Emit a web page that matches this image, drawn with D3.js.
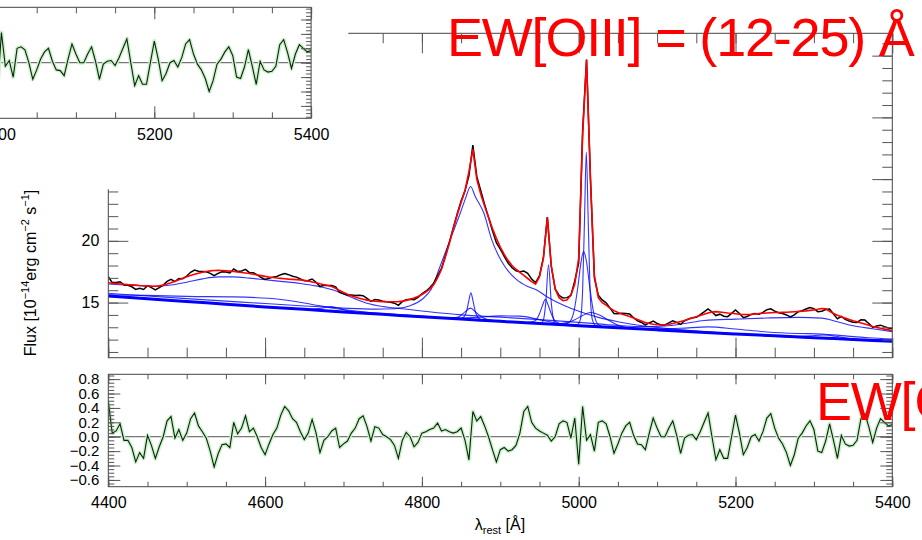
<!DOCTYPE html>
<html>
<head>
<meta charset="utf-8">
<script src="https://cdn.jsdelivr.net/npm/d3@7"></script>
<style>
  html, body { margin: 0; padding: 0; background: #fff; }
  svg { display: block; font-family: "Liberation Sans", Arial, Helvetica, sans-serif; }
</style>
</head>
<body>
<script>
// Hβ + [OIII] region fit: observed spectrum, total model, components, residuals.

// wavelength grid of the observed spectrum (Å, rest frame)
const wavelengths = d3.range(4400, 5401, 5);

// total model (red), flux in 1e-14 erg cm^-2 s^-1 Å^-1, one value per grid point
const modelFlux = [
  16.60, 16.57, 16.54, 16.51, 16.48, 16.45, 16.43, 16.41, 16.38, 16.36,
  16.35, 16.33, 16.32, 16.35, 16.42, 16.50, 16.60, 16.72, 16.85, 16.98,
  17.10, 17.20, 17.30, 17.38, 17.45, 17.52, 17.57, 17.60, 17.61, 17.60,
  17.58, 17.55, 17.52, 17.48, 17.44, 17.40, 17.35, 17.30, 17.24, 17.18,
  17.12, 17.07, 17.03, 16.99, 16.96, 16.93, 16.90, 16.88, 16.86, 16.84,
  16.80, 16.74, 16.67, 16.60, 16.52, 16.45, 16.38, 16.30, 16.15, 15.98,
  15.82, 15.68, 15.56, 15.45, 15.35, 15.27, 15.20, 15.15, 15.11, 15.09,
  15.08, 15.07, 15.07, 15.07, 15.08, 15.12, 15.18, 15.27, 15.38, 15.50,
  15.65, 15.85, 16.10, 16.45, 17.00, 17.70, 18.70, 19.80, 21.00, 22.10,
  23.10, 24.10, 25.60, 27.40, 25.00, 23.80, 22.80, 21.90, 21.00, 20.20,
  19.50, 18.90, 18.40, 18.00, 17.70, 17.45, 17.20, 16.95, 16.70, 16.50,
  17.10, 18.60, 21.90, 18.00, 16.10, 15.40, 15.15, 15.20, 15.60, 16.50,
  18.60, 28.50, 34.70, 25.00, 17.20, 15.40, 15.00, 14.80, 14.55, 14.35,
  14.20, 14.08, 13.97, 13.87, 13.75, 13.62, 13.50, 13.38, 13.30, 13.24,
  13.20, 13.18, 13.19, 13.24, 13.30, 13.38, 13.46, 13.55, 13.65, 13.75,
  13.85, 13.95, 14.05, 14.15, 14.24, 14.27, 14.24, 14.20, 14.16, 14.13,
  14.10, 14.06, 14.03, 14.02, 14.04, 14.08, 14.11, 14.14, 14.16, 14.18,
  14.19, 14.20, 14.21, 14.22, 14.24, 14.26, 14.28, 14.30, 14.33, 14.37,
  14.41, 14.46, 14.52, 14.50, 14.30, 14.12, 13.98, 13.86, 13.74, 13.63,
  13.53, 13.44, 13.35, 13.26, 13.16, 13.07, 12.99, 12.92, 12.85, 12.79,
  12.73
];

// residuals (observed - model), same grid
const residual = [
  0.49, 0.05, 0.08, 0.18, -0.05, -0.05, -0.15, -0.35, -0.22, -0.30,
  0.02, -0.12, -0.30, -0.14, 0.00, 0.22, 0.28, -0.02, 0.10, -0.05,
  0.05, 0.25, 0.33, 0.15, 0.07, -0.02, -0.20, -0.42, -0.24, -0.11,
  -0.10, -0.15, 0.20, 0.04, 0.12, 0.29, 0.07, 0.12, 0.00, -0.15,
  -0.25, -0.10, 0.03, 0.12, 0.30, 0.42, 0.36, 0.25, 0.20, 0.07,
  -0.04, 0.05, 0.24, 0.05, -0.22, -0.05, 0.00, 0.08, 0.12, -0.15,
  -0.10, -0.06, 0.05, 0.12, 0.25, 0.29, 0.14, -0.06, 0.14, 0.12,
  0.03, 0.00, -0.04, -0.12, -0.30, -0.05, 0.06, 0.00, -0.14, -0.08,
  0.05, 0.07, 0.10, 0.12, 0.19, 0.08, 0.10, 0.07, 0.05, 0.07,
  0.12, -0.05, -0.32, 0.35, 0.22, 0.28, 0.15, 0.00, -0.18, -0.35,
  -0.18, -0.15, -0.20, -0.18, -0.12, 0.05, 0.35, 0.42, 0.20, 0.12,
  0.08, 0.05, 0.02, -0.06, 0.00, 0.18, 0.22, 0.20, -0.02, 0.26,
  -0.38, 0.42, -0.05, 0.03, -0.20, 0.20, 0.22, 0.18, 0.00, -0.23,
  -0.10, 0.05, 0.15, 0.20, 0.02, -0.10, -0.11, -0.18, 0.05, 0.26,
  0.12, 0.00, 0.00, 0.12, 0.22, 0.02, -0.23, -0.02, 0.02, 0.03,
  -0.04, 0.07, 0.20, 0.33, 0.00, -0.32, -0.18, -0.30, -0.30, 0.00,
  0.30, 0.05, -0.25, -0.15, 0.00, 0.03, -0.06, 0.07, 0.26, 0.32,
  0.12, -0.02, -0.10, -0.22, -0.40, -0.25, -0.02, 0.05, 0.15, 0.22,
  0.10, -0.20, -0.22, -0.06, 0.18, -0.05, -0.30, 0.02, -0.10, -0.13,
  -0.12, -0.05, 0.25, 0.32, 0.14, -0.08, 0.12, 0.25, 0.20, 0.15,
  0.17
];

// fit components (blue), each plotted on top of the continuum: [wavelength, flux]
const powerLaw = [[4400,15.54],[4450,15.31],[4500,15.09],[4550,14.87],[4600,14.65],[4650,14.45],[4700,14.24],
  [4750,14.05],[4800,13.85],[4850,13.67],[4900,13.48],[4950,13.30],[5000,13.13],[5050,12.96],[5100,12.79],
  [5150,12.62],[5200,12.46],[5250,12.31],[5300,12.16],[5350,12.01],[5400,11.86]];
const hbBroad = [[4400,15.75],[4500,15.32],[4600,14.92],[4650,14.72],[4700,14.55],[4740,14.47],[4765,14.5],
  [4785,14.75],[4800,15.25],[4812,16.1],[4823,17.9],[4836,20.1],[4849,22.25],[4856,23.5],[4862,24.4],
  [4868,23.6],[4879,22.25],[4889,20.1],[4897,18.9],[4906,17.9],[4920,16.9],[4935,16.3],[4947,16.0],
  [4960,15.45],[4980,14.8],[5002,14.25],[5025,13.8],[5050,13.45],[5090,13.05],[5150,12.7],[5200,12.48],
  [5300,12.12],[5400,11.98]];
const feII = [[4400,16.5],[4420,16.42],[4440,16.36],[4460,16.32],[4480,16.42],[4500,16.65],[4520,16.92],
  [4540,17.08],[4560,17.08],[4580,16.98],[4600,16.85],[4620,16.72],[4645,16.55],[4665,16.35],[4687,16.02],
  [4700,15.7],[4715,15.3],[4730,14.95],[4750,14.68],[4775,14.5],[4800,14.32],[4850,14.0],[4900,13.82],
  [4950,13.62],[5000,13.4],[5050,13.15],[5085,13.05],[5110,13.1],[5135,13.3],[5160,13.55],[5200,13.66],
  [5240,13.75],[5280,13.8],[5310,13.74],[5330,13.45],[5350,13.12],[5375,12.88],[5400,12.65]];
const hbNarrow = [[4835,13.72],[4848,13.68],[4853,13.8],[4857,14.3],[4860,15.2],[4862.5,15.8],[4865,15.2],
  [4868,14.3],[4872,13.75],[4877,13.6],[4890,13.56]];
const hbMid = [[4830,13.75],[4845,13.8],[4855,14.25],[4862,14.55],[4869,14.2],[4880,13.7],[4895,13.5]];
const o3Narrow4959 = [[4945,13.3],[4952,13.32],[4955,13.6],[4958,15.0],[4961.5,18.05],[4965,15.0],[4968,13.6],
  [4971,13.25],[4980,13.2]];
const o3Wing4959 = [[4935,13.38],[4944,13.5],[4950,14.1],[4954,14.8],[4957.5,15.27],[4961,14.8],[4965,14.1],
  [4971,13.45],[4980,13.22]];
const o3Narrow5007 = [[4990,13.18],[4998,13.2],[5002,13.6],[5005,16.0],[5007.5,22.0],[5009.7,27.2],[5012,22.0],
  [5014.5,16.0],[5017.5,13.6],[5022,13.12],[5030,13.02]];
const o3Wing5007 = [[4980,13.2],[4988,13.4],[4994,14.3],[4999,16.3],[5003,18.3],[5006.3,19.13],[5010,18.3],
  [5014,16.3],[5019,14.2],[5025,13.2],[5035,13.0]];
const bump5015 = [[4960,13.28],[4980,13.32],[4995,13.6],[5005,13.95],[5015,14.19],[5028,13.95],[5040,13.5],
  [5055,13.05],[5070,12.9]];
const bump4925 = [[4840,13.72],[4870,13.8],[4900,13.92],[4925,13.9],[4950,13.62],[4975,13.3],[5000,13.15],[5020,13.07]];
const heII = [[4640,14.49],[4660,14.48],[4672,14.55],[4683,14.67],[4694,14.55],[4708,14.3],[4725,14.14]];
const bump4560 = [[4400,15.62],[4450,15.58],[4500,15.5],[4560,15.46],[4620,15.25],[4660,14.85],[4690,14.52],
  [4730,14.22],[4780,13.98],[4830,13.75]];
const feRed = [[5000,13.13],[5050,13.0],[5100,12.88],[5130,12.92],[5165,13.03],[5200,12.86],[5240,12.62],
  [5280,12.5],[5310,12.46],[5340,12.3],[5370,12.15],[5400,12.04]];
const bump5310 = [[5270,12.24],[5295,12.3],[5312,12.38],[5328,12.27],[5350,12.02]];
const components = [hbBroad, feII, hbNarrow, hbMid, o3Narrow4959, o3Wing4959, o3Narrow5007, o3Wing5007,
  bump5015, bump4925, heII, bump4560, feRed, bump5310];

// ticks
const xMajor = [4400, 4600, 4800, 5000, 5200, 5400];
const xMinor = d3.range(4400, 5401, 50);
const fluxMajor = [15, 20, 25, 30, 35];
const fluxMinor = d3.range(11, 37, 1);
const resMajor = [-0.6, -0.4, -0.2, 0.0, 0.2, 0.4, 0.6, 0.8];
const resMinor = d3.range(-0.65, 0.86, 0.05);
const insetResMajor = [-0.6, -0.4, -0.2, 0.0, 0.2, 0.4, 0.6];
const insetResMinor = d3.range(-0.75, 0.76, 0.05);
const ewLabel = "EW[OIII] = (12-25) Å";

const width = 922, height = 540;
const L = 108.3, R = 892.3;
const mainTop = 33.3, mainBot = 357.7, resTop = 374.3, resBot = 486.7;

const svg = d3.select("body").append("svg").attr("width", width).attr("height", height);

const x = d3.scaleLinear().domain([4400, 5400]).range([L, R]);
const yFlux = d3.scaleLinear().domain([10.535, 36.81]).range([mainBot, mainTop]);
const yRes = d3.scaleLinear().domain([-0.694, 0.867]).range([resBot, resTop]);
// the pasted residual strip in the top-left corner (same dispersion, shifted)
const xIn = d3.scaleLinear().domain([4400, 5400]).range([154.3 - 627.2, 154.3 + 156.8]);
const yIn = d3.scaleLinear().domain([-0.772, 0.769]).range([118.3, 7.3]);

const observed = modelFlux.map((m, i) => m + residual[i]);

function clip(id, x0, y0, w, h) {
  svg.append("clipPath").attr("id", id).append("rect").attr("x", x0).attr("y", y0).attr("width", w).attr("height", h);
  return svg.append("g").attr("clip-path", `url(#${id})`);
}

function ticks(parent, axisFn, scale, values, size, transform, fmt) {
  const ax = axisFn(scale).tickValues(values).tickSizeInner(-size).tickSizeOuter(0)
    .tickPadding(9).tickFormat(fmt || "");
  const g = parent.append("g").attr("transform", transform).call(ax)
    .attr("font-family", null).attr("font-size", 16);
  g.select(".domain").remove();
  g.selectAll(".tick line").attr("stroke", "#555");
  g.selectAll(".tick text").attr("fill", "#000");
  return g;
}

function frame(x0, y0, x1, y1) {
  svg.append("rect").attr("x", x0).attr("y", y0).attr("width", x1 - x0).attr("height", y1 - y0)
    .attr("fill", "none").attr("stroke", "#444").attr("stroke-width", 1);
}

// ---- main panel
const fluxLine = d3.line().x(d => x(d[0])).y(d => yFlux(d[1])).curve(d3.curveMonotoneX);
const mainG = clip("clipMain", L, mainTop, R - L, mainBot - mainTop);
components.forEach(c => {
  mainG.append("path").attr("d", fluxLine(c)).attr("fill", "none")
    .attr("stroke", "#0000ff").attr("stroke-opacity", 0.8).attr("stroke-width", 1.1);
});
mainG.append("path").attr("d", fluxLine(powerLaw)).attr("fill", "none")
  .attr("stroke", "#0000ff").attr("stroke-width", 3);

const gridLine = d3.line().x((d, i) => x(wavelengths[i])).y(d => yFlux(d));
mainG.append("path").attr("d", gridLine(observed)).attr("fill", "none")
  .attr("stroke", "#000").attr("stroke-width", 1.5);
mainG.append("path").attr("d", gridLine(modelFlux)).attr("fill", "none")
  .attr("stroke", "#ff0000").attr("stroke-width", 1.6);

frame(L, mainTop, R, mainBot);
ticks(svg, d3.axisBottom, x, xMinor, 10, `translate(0,${mainBot})`);
ticks(svg, d3.axisBottom, x, xMajor, 20, `translate(0,${mainBot})`);
ticks(svg, d3.axisTop, x, xMinor, 10, `translate(0,${mainTop})`);
ticks(svg, d3.axisTop, x, xMajor, 20, `translate(0,${mainTop})`);
ticks(svg, d3.axisLeft, yFlux, fluxMinor, 10, `translate(${L},0)`);
ticks(svg, d3.axisLeft, yFlux, fluxMajor, 20, `translate(${L},0)`, d3.format("d"));
ticks(svg, d3.axisRight, yFlux, fluxMinor, 10, `translate(${R},0)`);
ticks(svg, d3.axisRight, yFlux, fluxMajor, 20, `translate(${R},0)`);

const yTitle = svg.append("text").attr("transform", "translate(36,273) rotate(-90)")
  .attr("text-anchor", "middle").attr("font-size", 16).attr("fill", "#000");
yTitle.append("tspan").text("Flux [10");
yTitle.append("tspan").attr("font-size", 11).attr("dy", -7).text("−14");
yTitle.append("tspan").attr("dy", 7).text("erg cm");
yTitle.append("tspan").attr("font-size", 11).attr("dy", -7).text("−2");
yTitle.append("tspan").attr("dy", 7).text(" s");
yTitle.append("tspan").attr("font-size", 11).attr("dy", -7).text("−1");
yTitle.append("tspan").attr("dy", 7).text("]");

// ---- residual panel
const resG = clip("clipRes", L, resTop, R - L, resBot - resTop);
resG.append("line").attr("x1", L).attr("x2", R).attr("y1", yRes(0)).attr("y2", yRes(0)).attr("stroke", "#555");
const resLine = d3.line().x((d, i) => x(wavelengths[i])).y(d => yRes(d));
resG.append("path").attr("d", resLine(residual)).attr("fill", "none")
  .attr("stroke", "#c9f2c9").attr("stroke-width", 4).attr("stroke-linejoin", "round");
resG.append("path").attr("d", resLine(residual)).attr("fill", "none")
  .attr("stroke", "#0f220f").attr("stroke-width", 1.1);

frame(L, resTop, R, resBot);
ticks(svg, d3.axisBottom, x, xMinor, 5, `translate(0,${resBot})`);
ticks(svg, d3.axisBottom, x, xMajor, 10, `translate(0,${resBot})`, d3.format("d")).call(g => g.selectAll("text").attr("y", 10));
ticks(svg, d3.axisTop, x, xMinor, 5, `translate(0,${resTop})`);
ticks(svg, d3.axisTop, x, xMajor, 10, `translate(0,${resTop})`);
ticks(svg, d3.axisLeft, yRes, resMinor, 6, `translate(${L},0)`);
ticks(svg, d3.axisLeft, yRes, resMajor, 12, `translate(${L},0)`, d3.format(".1f")).attr("font-size", 15);
ticks(svg, d3.axisRight, yRes, resMinor, 6, `translate(${R},0)`);
ticks(svg, d3.axisRight, yRes, resMajor, 12, `translate(${R},0)`);

const xTitle = svg.append("text").attr("x", 500).attr("y", 530).attr("text-anchor", "middle")
  .attr("font-size", 16).attr("fill", "#000");
xTitle.append("tspan").text("λ");
xTitle.append("tspan").attr("font-size", 11).attr("dy", 4).text("rest");
xTitle.append("tspan").attr("dy", -4).text(" [Å]");

// ---- pasted strip in the top-left corner, with its own white background
svg.append("rect").attr("x", 0).attr("y", 0).attr("width", 348.3).attr("height", 189.3).attr("fill", "#fff");
const inG = clip("clipIn", 0, 7.3, 311.1, 111);
inG.append("line").attr("x1", 0).attr("x2", 311.1).attr("y1", yIn(0)).attr("y2", yIn(0)).attr("stroke", "#555");
const inLine = d3.line().x((d, i) => xIn(wavelengths[i])).y(d => yIn(d));
inG.append("path").attr("d", inLine(residual)).attr("fill", "none")
  .attr("stroke", "#c9f2c9").attr("stroke-width", 4).attr("stroke-linejoin", "round");
inG.append("path").attr("d", inLine(residual)).attr("fill", "none")
  .attr("stroke", "#0f220f").attr("stroke-width", 1.1);
svg.append("path").attr("d", `M0,7.3H311.1V118.3H0`).attr("fill", "none").attr("stroke", "#444");
const inTicks = svg.append("g").attr("clip-path", "url(#clipInTicks)");
svg.append("clipPath").attr("id", "clipInTicks").append("rect").attr("x", 0).attr("y", 0).attr("width", 348).attr("height", 189);
ticks(inTicks, d3.axisTop, xIn, xMinor, 6, "translate(0,7.3)");
ticks(inTicks, d3.axisTop, xIn, xMajor, 12, "translate(0,7.3)");
ticks(inTicks, d3.axisBottom, xIn, xMinor, 6, "translate(0,118.3)");
ticks(inTicks, d3.axisBottom, xIn, xMajor, 12, "translate(0,118.3)", d3.format("d")).call(g => g.selectAll("text").attr("y", 10));
ticks(inTicks, d3.axisRight, yIn, insetResMinor, 5, "translate(311.1,0)");
ticks(inTicks, d3.axisRight, yIn, insetResMajor, 10, "translate(311.1,0)");

// ---- red equivalent-width labels
svg.append("text").attr("x", 447).attr("y", 55.7).attr("font-size", 54).attr("letter-spacing", -1.2)
  .attr("fill", "#ff0000").text(ewLabel);
svg.append("text").attr("x", 816).attr("y", 420).attr("font-size", 54).attr("letter-spacing", -1.2)
  .attr("fill", "#ff0000").text(ewLabel);
</script>
</body>
</html>
